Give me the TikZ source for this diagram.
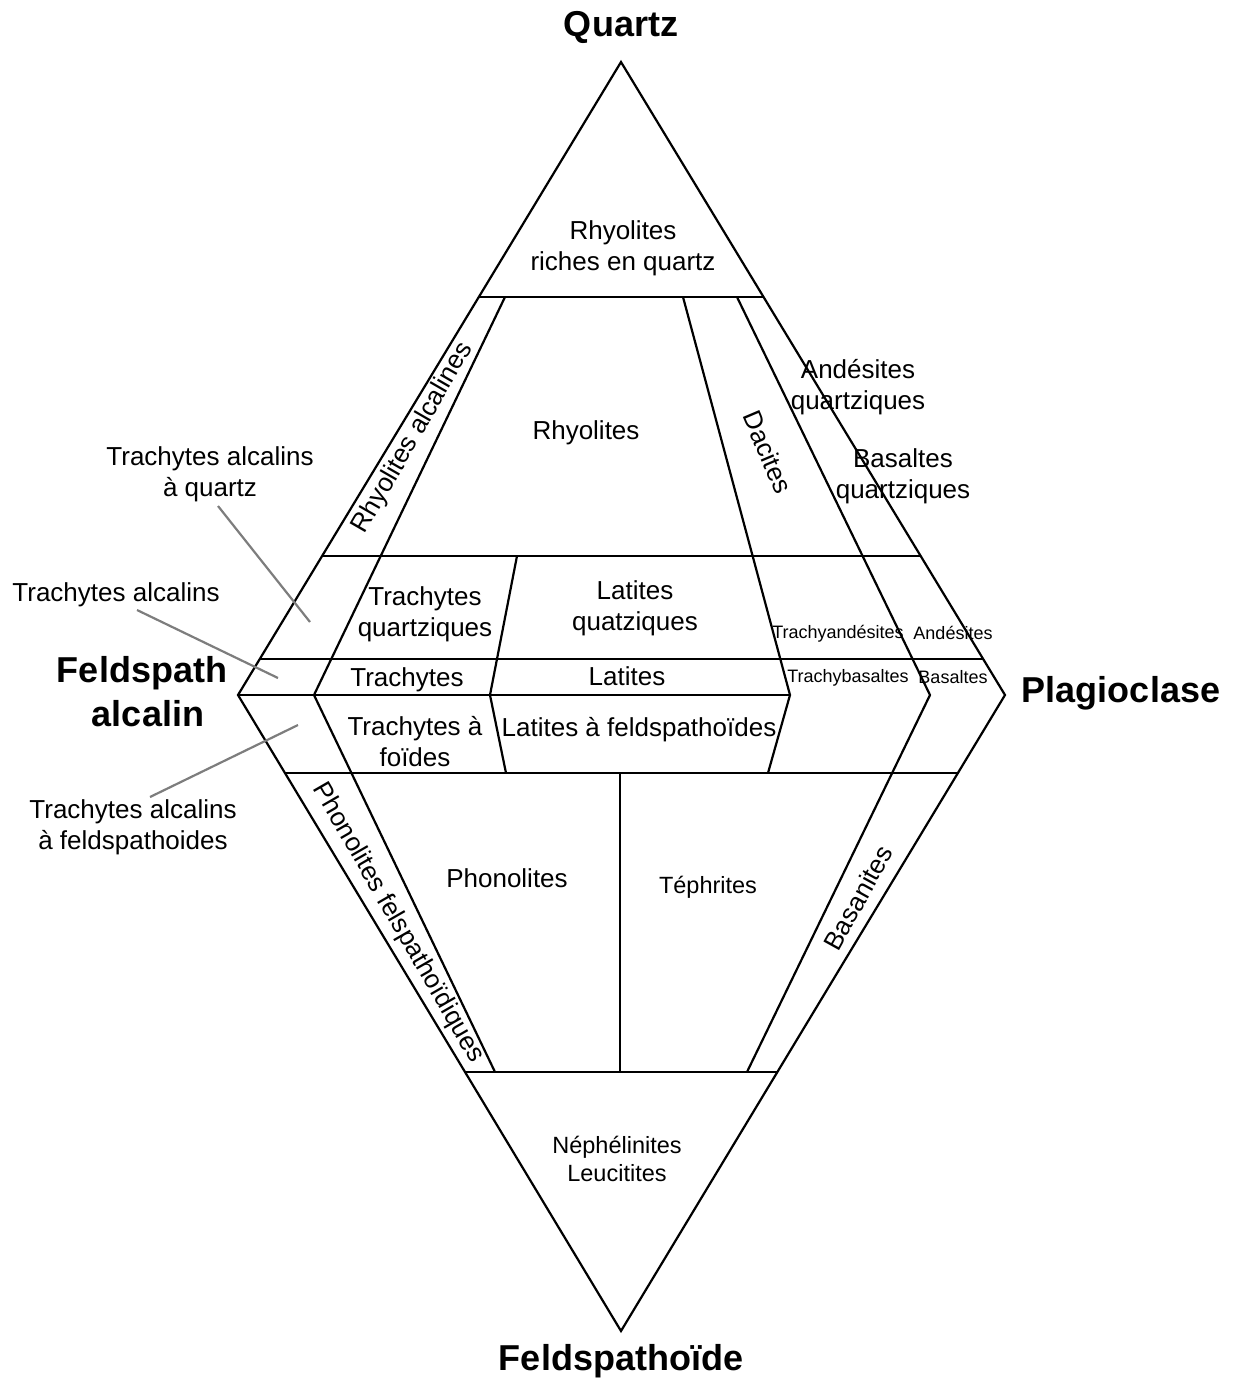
\documentclass[tikz,border=0pt]{standalone}
\usepackage{fontspec}
\setmainfont{Liberation Sans}
\usetikzlibrary{calc}
\definecolor{leadergray}{RGB}{125,125,125}
\begin{document}
\begin{tikzpicture}[x=0.5pt,y=-0.5pt,
  edge/.style={line width=1.1pt, line join=miter},
  lbl/.style={font=\fontsize{13}{15.5}\selectfont, align=center, inner sep=0pt},
  midlbl/.style={font=\fontsize{11.75}{14}\selectfont, align=center, inner sep=0pt},
  smalllbl/.style={font=\fontsize{9}{11}\selectfont, inner sep=0pt},
  pole/.style={font=\fontsize{18}{22}\selectfont\bfseries, align=center, inner sep=0pt},
  leader/.style={line width=1.1pt, draw=leadergray}]
\useasboundingbox (0,0) rectangle (1233,1378);

% apexes of the QAPF double triangle
\coordinate (Q) at (621,62);
\coordinate (A) at (238,695);
\coordinate (P) at (1005,695);
\coordinate (F) at (621,1331);

% outline
\draw[edge] (Q) -- (P) -- (F) -- (A) -- cycle;

% horizontal field boundaries
\draw[edge] ($(Q)!0.37125!(A)$) -- ($(Q)!0.37125!(P)$);
\draw[edge] ($(Q)!0.78041!(A)$) -- ($(Q)!0.78041!(P)$);
\draw[edge] ($(Q)!0.94313!(A)$) -- ($(Q)!0.94313!(P)$);
\draw[edge] (A) -- (790,695);
\draw[edge] ($(A)!0.12264!(F)$) -- ($(P)!0.12264!(F)$);
\draw[edge] ($(A)!0.59277!(F)$) -- ($(P)!0.59277!(F)$);

% oblique field boundaries
\draw[edge] (505,297) -- (314,695) -- (495,1072);
\draw[edge] (737,297) -- (930,695) -- (747,1072);
\draw[edge] (517,556) -- (490,695) -- (506,773);
\draw[edge] (683,297) -- (790,695) -- (768,773);
\draw[edge] (620,773) -- (620,1072);

% poles
\node[pole] (nQ) at (621,27) {Quartz};
\node[pole] (nA) at (142,692) {Feldspath\\\hspace*{6pt}alcalin};
\node[pole] (nP) at (1121,693) {Plagioclase};
\node[pole] (nF) at (621,1361) {Feldspathoïde};

% upper triangle fields
\node[lbl] (rq) at (623,248) {Rhyolites\\riches en quartz};
\node[lbl] (rh) at (586,433) {Rhyolites};
\node[lbl, rotate=60] (ra) at (413,438) {Rhyolites alcalines};
\node[lbl, rotate=-67] (da) at (768,452) {Dacites};
\node[lbl] (aq) at (858,387) {Andésites\\quartziques};
\node[lbl] (bq) at (903,476) {Basaltes\\quartziques};
\node[lbl] (tq) at (425,614) {Trachytes\\quartziques};
\node[lbl] (lq) at (635,608) {Latites\\quatziques};
\node[smalllbl] (tan) at (838,634) {Trachyandésites};
\node[smalllbl] (an) at (953,633) {Andésites};
\node[lbl] (tr) at (407,680) {Trachytes};
\node[lbl] (la) at (627,676) {Latites};
\node[smalllbl] (tb) at (848,678) {Trachybasaltes};
\node[smalllbl] (ba) at (953,677) {Basaltes};

% lower triangle fields
\node[lbl] (tf) at (415,742) {Trachytes à\\foïdes};
\node[lbl] (lf) at (639,730) {Latites à feldspathoïdes};
\node[lbl, rotate=-60] (pf) at (398,923) {Phonolites felspathoïdiques};
\node[lbl] (ph) at (507,878) {Phonolites};
\node[midlbl] (te) at (708,887) {Téphrites};
\node[lbl, rotate=61] (bs) at (858,898) {Basanites};
\node[midlbl] (ne) at (617,1159) {Néphélinites\\Leucitites};

% outside labels with leaders
\node[lbl] (taq) at (210,474) {Trachytes alcalins\\à quartz};
\node[lbl] (tal) at (116,595) {Trachytes alcalins};
\node[lbl] (taf) at (133,827) {Trachytes alcalins\\à feldspathoides};

\coordinate (taqout) at (218,506);
\coordinate (talout) at (137,610);
\coordinate (tafout) at (150,797);
\coordinate (taqin) at (310,622);
\coordinate (talin) at (278,678);
\coordinate (tafin) at (298,725);
\draw[leader] (taqout) -- (taqin);
\draw[leader] (talout) -- (talin);
\draw[leader] (tafout) -- (tafin);
\end{tikzpicture}
\end{document}
